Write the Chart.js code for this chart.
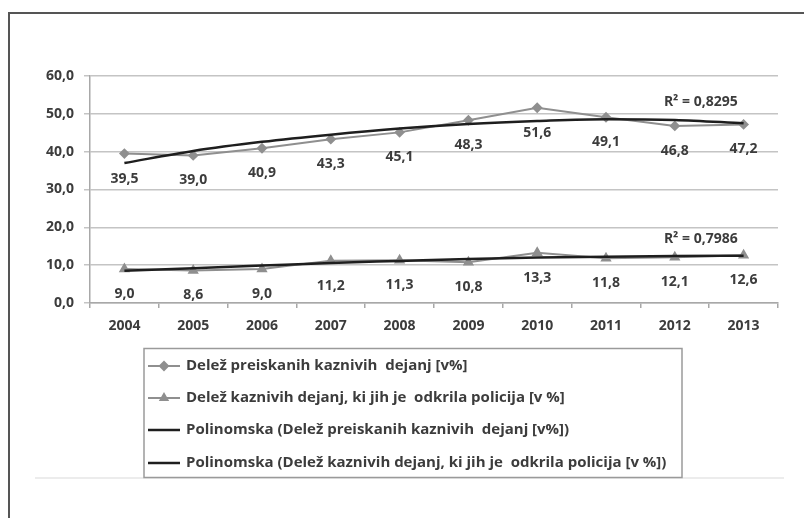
<!DOCTYPE html>
<html>
<head>
<meta charset="utf-8">
<script src="https://cdn.jsdelivr.net/npm/chart.js@4.4.1/dist/chart.umd.min.js"></script>
<style>
  html, body { margin: 0; padding: 0; background: #fff; }
  #wrap { position: relative; width: 804px; height: 518px; overflow: hidden; }
  #frame { position: absolute; left: 8px; top: 12px; width: 900px; height: 600px;
           border-left: 2px solid #555; border-top: 2px solid #555; }
  canvas { position: absolute; left: 0; top: 0; }
</style>
</head>
<body>
<div id="wrap">
  <div id="frame"></div>
  <canvas id="chart" width="804" height="518"></canvas>
</div>
<script>
const years = ["2004", "2005", "2006", "2007", "2008", "2009", "2010", "2011", "2012", "2013"];
const preiskanih = [39.5, 39.0, 40.9, 43.3, 45.1, 48.3, 51.6, 49.1, 46.8, 47.2];
const odkrila = [9.0, 8.6, 9.0, 11.2, 11.3, 10.8, 13.3, 11.8, 12.1, 12.6];
// trend lines
const trendPreiskanih = [37.0, 40.2, 42.6, 44.5, 46.1, 47.3, 48.1, 48.6, 48.4, 47.5];
const trendOdkrila = [8.5, 9.2, 9.9, 10.6, 11.1, 11.6, 12.0, 12.2, 12.4, 12.5];
const yTicks = [0, 10, 20, 30, 40, 50, 60];
const legendLabels = [
  "Delež preiskanih kaznivih  dejanj [v%]",
  "Delež kaznivih dejanj, ki jih je  odkrila policija [v %]",
  "Polinomska (Delež preiskanih kaznivih  dejanj [v%])",
  "Polinomska (Delež kaznivih dejanj, ki jih je  odkrila policija [v %])",
];
const r2Labels = ["R² = 0,8295", "R² = 0,7986"];
const r2Values = [53.2, 16.9];

const fontFam = "'Open Sans', sans-serif";
const textColor = "#3c3c3c";
const seriesGray = "#8f8f8f";
const trendDark = "#1e1e1e";

function fmt(v) {
  return v.toFixed(1).replace(".", ",");
}

const labelsPlugin = {
  id: "labels",
  afterDatasetsDraw(chart) {
    const c = chart.ctx;
    const xs = chart.scales.x;
    const ys = chart.scales.y;
    c.save();
    c.font = "bold 14px " + fontFam;
    c.fillStyle = textColor;
    c.textAlign = "center";
    c.textBaseline = "middle";
    [0, 1].forEach((i) => {
      const meta = chart.getDatasetMeta(i);
      meta.data.forEach((pt, j) => {
        c.fillText(fmt(chart.data.datasets[i].data[j]), pt.x, pt.y + 25);
      });
    });
    // R² labels
    r2Labels.forEach((t, i) => {
      c.fillText(t, xs.getPixelForValue(8) + 26, ys.getPixelForValue(r2Values[i]));
    });
    c.restore();
  },
};

const legendPlugin = {
  id: "boxLegend",
  afterDraw(chart) {
    const c = chart.ctx;
    const ds = chart.data.datasets;
    c.save();
    // faint line under the legend
    c.strokeStyle = "#ececec";
    c.lineWidth = 2;
    c.beginPath();
    c.moveTo(35, 478);
    c.lineTo(784, 478);
    c.stroke();
    // box
    c.strokeStyle = "#9a9a9a";
    c.lineWidth = 1.5;
    c.strokeRect(144, 348.5, 538, 129);
    const rows = [366, 398, 430, 463];
    c.font = "bold 15px " + fontFam;
    c.textBaseline = "middle";
    c.textAlign = "left";
    rows.forEach((y, i) => {
      c.strokeStyle = ds[i].borderColor;
      c.lineWidth = ds[i].borderWidth;
      c.beginPath();
      c.moveTo(148, y);
      c.lineTo(180, y);
      c.stroke();
      if (ds[i].pointRadius > 0) {
        c.fillStyle = ds[i].pointBackgroundColor;
        Chart.helpers.drawPoint(c, { pointStyle: ds[i].pointStyle, radius: 4, borderWidth: 1 }, 164, y);
        c.fill();
      }
      c.fillStyle = textColor;
      c.fillText(legendLabels[i], 186, y);
    });
    c.restore();
  },
};

new Chart(document.getElementById("chart"), {
  type: "line",
  data: {
    labels: years,
    datasets: [
      {
        label: legendLabels[0],
        data: preiskanih,
        borderColor: seriesGray,
        borderWidth: 2,
        pointStyle: "rectRot",
        pointRadius: 4,
        pointBackgroundColor: seriesGray,
        pointBorderColor: seriesGray,
        order: 1,
      },
      {
        label: legendLabels[1],
        data: odkrila,
        borderColor: seriesGray,
        borderWidth: 2,
        pointStyle: "triangle",
        pointRadius: 4.5,
        pointBackgroundColor: seriesGray,
        pointBorderColor: seriesGray,
        order: 1,
      },
      {
        label: legendLabels[2],
        data: trendPreiskanih,
        borderColor: trendDark,
        borderWidth: 2.5,
        pointRadius: 0,
        cubicInterpolationMode: "monotone",
        order: 0,
      },
      {
        label: legendLabels[3],
        data: trendOdkrila,
        borderColor: trendDark,
        borderWidth: 2.5,
        pointRadius: 0,
        cubicInterpolationMode: "monotone",
        order: 0,
      },
    ],
  },
  options: {
    responsive: false,
    animation: false,
    layout: {
      padding: { left: 0, top: 76, right: 26, bottom: 185 },
    },
    plugins: {
      legend: { display: false },
      tooltip: { enabled: false },
    },
    scales: {
      x: {
        offset: true,
        afterFit(scale) {
          scale.height = 30;
        },
        grid: {
          offset: true,
          drawOnChartArea: false,
          drawTicks: true,
          tickLength: 5,
          color: "#a8a8a8",
          lineWidth: 1.5,
        },
        border: { color: "#a8a8a8", width: 1.5 },
        ticks: {
          color: textColor,
          font: { family: fontFam, size: 14, weight: "bold" },
          padding: 10,
        },
      },
      y: {
        min: 0,
        max: 60,
        afterFit(scale) {
          scale.width = 90;
        },
        afterBuildTicks(scale) {
          scale.ticks = yTicks.map((v) => ({ value: v }));
        },
        grid: {
          color: "#c4c4c4",
          lineWidth: 1.5,
          tickLength: 6,
        },
        border: { color: "#a8a8a8", width: 1.5 },
        ticks: {
          color: textColor,
          font: { family: fontFam, size: 14, weight: "bold" },
          padding: 10,
          callback: (v) => fmt(v),
        },
      },
    },
  },
  plugins: [labelsPlugin, legendPlugin],
});
</script>
</body>
</html>
